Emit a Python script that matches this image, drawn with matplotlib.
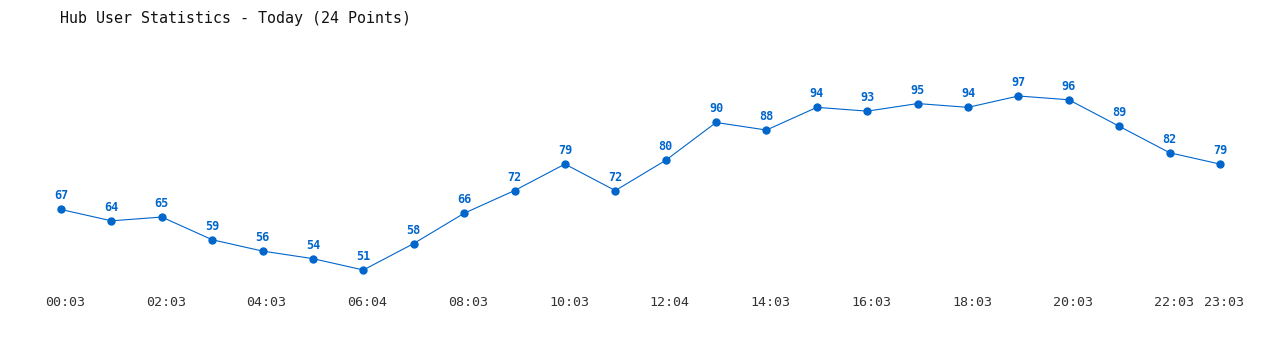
import matplotlib
matplotlib.use('Agg')
import matplotlib.pyplot as plt

title = 'Hub User Statistics - Today (24 Points)'
users = [67, 64, 65, 59, 56, 54, 51, 58, 66, 72, 79, 72,
         80, 90, 88, 94, 93, 95, 94, 97, 96, 89, 82, 79]
tick_pos = [0, 2, 4, 6, 8, 10, 12, 14, 16, 18, 20, 22, 23]
tick_labels = ['00:03', '02:03', '04:03', '06:04', '08:03', '10:03', '12:04',
               '14:03', '16:03', '18:03', '20:03', '22:03', '23:03']

blue = '#0066cc'

fig = plt.figure(figsize=(12.8, 3.5), dpi=100)
ax = fig.add_axes([0, 0, 1, 1])
ax.axis('off')

x = list(range(len(users)))
ax.plot(x, users, color=blue, linewidth=0.8, marker='o', markersize=5)

# value labels above each point
for i, v in zip(x, users):
    ax.annotate(str(v), (i, v), xytext=(0, 7), textcoords='offset pixels',
                ha='center', va='bottom', color=blue, fontsize=8.5,
                fontweight='bold', family='DejaVu Sans Mono')

# time labels along the bottom (slightly right of the points, as in the original)
for p, lab in zip(tick_pos, tick_labels):
    ax.annotate(lab, (p, 0), xycoords=('data', 'figure pixels'),
                xytext=(4, 47), textcoords='offset pixels',
                ha='center', va='center', color='#333333', fontsize=9.6,
                family='DejaVu Sans Mono')

# pixel mapping from the reference: first point at x=61, step ~50.4 px
step = (1220 - 61) / 23
ax.set_xlim(-61 / step, (1280 - 61) / step)
unit = (270 - 96) / (97 - 51)
ax.set_ylim(51 - 80 / unit, 51 + 270 / unit)

fig.text(60 / 1280, 1 - 18 / 350, title, ha='left', va='center',
         fontsize=10.8, family='DejaVu Sans Mono', color='#111111')

fig.savefig('out.png', dpi=100, facecolor='white')
